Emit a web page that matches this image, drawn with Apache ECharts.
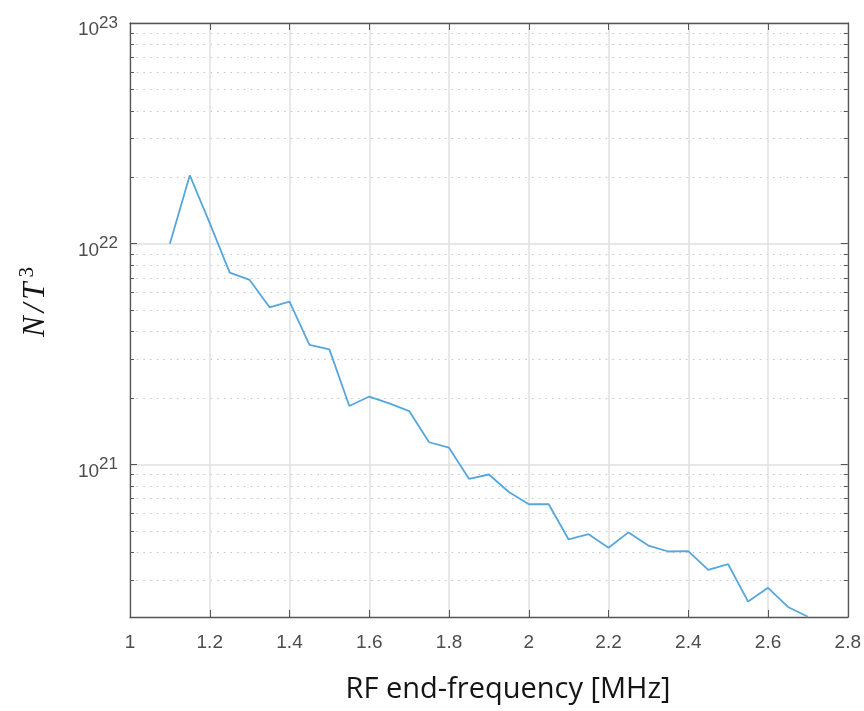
<!DOCTYPE html>
<html>
<head>
<meta charset="utf-8">
<script src="https://cdn.jsdelivr.net/npm/echarts@6/dist/echarts.min.js"></script>
<style>
html,body{margin:0;padding:0;background:#fff;}
#chart{width:864px;height:711px;}
</style>
</head>
<body>
<div id="chart"></div>
<script>
// ---- data ----
const freqMHz = [1.10,1.15,1.20,1.25,1.30,1.35,1.40,1.45,1.50,1.55,1.60,1.65,1.70,1.75,1.80,1.85,1.90,
                 1.95,2.00,2.05,2.10,2.15,2.20,2.25,2.30,2.35,2.40,2.45,2.50,2.55,2.60,2.65,2.70];
const nOverT3 = [1.0e22,2.04e22,1.24e22,7.4e21,6.85e21,5.15e21,5.46e21,3.48e21,3.32e21,1.84e21,2.03e21,1.89e21,1.745e21,
                 1.26e21,1.19e21,8.6e20,9.0e20,7.5e20,6.6e20,6.6e20,4.57e20,4.83e20,4.19e20,4.92e20,4.29e20,4.03e20,
                 4.05e20,3.33e20,3.53e20,2.39e20,2.76e20,2.26e20,2.04e20];
const xTickLabels = ['1','1.2','1.4','1.6','1.8','2','2.2','2.4','2.6','2.8'];
const yMajorTicks = [1e21,1e22,1e23];
const yMinorTicks = [3e20,4e20,5e20,6e20,7e20,8e20,9e20,
                     2e21,3e21,4e21,5e21,6e21,7e21,8e21,9e21,
                     2e22,3e22,4e22,5e22,6e22,7e22,8e22,9e22];
const xMin = 1, xMax = 2.8, xStep = 0.2;
const yMin = 2.035e20, yMax = 1e23;
const xTitle = 'RF end-frequency [MHz]';

const AXIS = '#555555';
const LABEL = '#4d4d4d';
const GRID_MAJOR = '#e0e0e0';
const GRID_MINOR = '#c4c4c4';
const LINE = '#56a7dd';

// keep tick values inside the (floating point) axis extent
const inExtent = function(v){ return Math.min(Math.max(v, yMin*1.000001), yMax*0.999999); };
const yMajorVals = yMajorTicks.map(inExtent);
const yMinorVals = yMinorTicks.map(inExtent);

const chart = echarts.init(document.getElementById('chart'), null, {renderer:'canvas'});

const xBase = {
  type:'value', min:xMin, max:xMax, interval:xStep,
  axisLine:{show:true, onZero:false, lineStyle:{color:AXIS, width:1.3}},
  axisTick:{show:true, inside:true, length:7, lineStyle:{color:AXIS}},
};
const yBase = {
  type:'log', logBase:10, min:yMin, max:yMax,
};
const LF = 'Liberation Sans, Arial, sans-serif';
const SERIF = 'Liberation Serif, DejaVu Serif, serif';

const option = {
  animation:false,
  grid:{left:130, right:16, top:23, bottom:94, containLabel:false},
  xAxis:[
    Object.assign({}, xBase, {
      position:'bottom',
      axisLabel:{show:true, color:LABEL, fontFamily:LF, fontSize:19, margin:16,
        formatter:function(v){ const i = Math.round((v - xMin)/xStep); return xTickLabels[i]; }},
      splitLine:{show:true, lineStyle:{color:GRID_MAJOR, width:1.5}}
    }),
    Object.assign({}, xBase, {
      position:'top',
      axisLabel:{show:false},
      splitLine:{show:false}
    })
  ],
  yAxis:[
    Object.assign({}, yBase, {
      position:'left',
      axisLine:{show:true, lineStyle:{color:AXIS, width:1.3}},
      axisTick:{show:true, inside:true, length:7, customValues:yMajorVals, lineStyle:{color:AXIS}},
      axisLabel:{show:true, customValues:yMajorVals, margin:12, color:LABEL, fontFamily:LF,
        showMaxLabel:true, showMinLabel:true,
        formatter:function(v){ const e = Math.round(Math.log10(v)); return '{b|10}{s|' + e + '}'; },
        rich:{
          b:{fontSize:19, color:LABEL, fontFamily:LF, padding:[14,0,0,0]},
          s:{fontSize:17, color:LABEL, fontFamily:LF}
        }},
      splitLine:{show:true, lineStyle:{color:GRID_MAJOR, width:1.5}}
    }),
    Object.assign({}, yBase, {
      position:'left',
      axisLine:{show:false},
      axisTick:{show:true, inside:true, length:4, customValues:yMinorVals, lineStyle:{color:AXIS}},
      axisLabel:{show:false},
      splitLine:{show:true, lineStyle:{color:GRID_MINOR, width:1.2, type:[1.5,5.2]}}
    }),
    Object.assign({}, yBase, {
      position:'right',
      axisLine:{show:true, lineStyle:{color:AXIS, width:1.3}},
      axisTick:{show:true, inside:true, length:7, customValues:yMajorVals, lineStyle:{color:AXIS}},
      axisLabel:{show:false},
      splitLine:{show:false}
    }),
    Object.assign({}, yBase, {
      position:'right',
      axisLine:{show:false},
      axisTick:{show:true, inside:true, length:4, customValues:yMinorVals, lineStyle:{color:AXIS}},
      axisLabel:{show:false},
      splitLine:{show:false}
    })
  ],
  graphic:[
    {type:'text', x:508, y:690, style:{text:xTitle, fontFamily:'Open Sans, sans-serif', fontSize:29, fill:'#141414',
      align:'center', verticalAlign:'middle'}},
    {type:'text', x:31, y:302, rotation:Math.PI/2,
      style:{text:'{n|N}{sl|/}{t|T}{s|3}', align:'center', verticalAlign:'middle',
        rich:{
          n:{fontFamily:SERIF, fontStyle:'italic', fontSize:31, fill:'#141414', padding:[10,0,0,0]},
          sl:{fontFamily:SERIF, fontStyle:'italic', fontSize:31, fill:'#141414', padding:[10,4,0,4]},
          t:{fontFamily:SERIF, fontStyle:'italic', fontSize:31, fill:'#141414', padding:[10,3,0,0]},
          s:{fontFamily:SERIF, fontSize:21, fill:'#141414', padding:[0,0,8,2]}
        }}}
  ],
  series:[{
    type:'line', xAxisIndex:0, yAxisIndex:0,
    data: freqMHz.map(function(f,i){ return [f, nOverT3[i]]; }),
    showSymbol:false, symbol:'none',
    lineStyle:{color:LINE, width:1.8},
    clip:true, z:5
  }]
};
chart.setOption(option);
</script>
</body>
</html>
